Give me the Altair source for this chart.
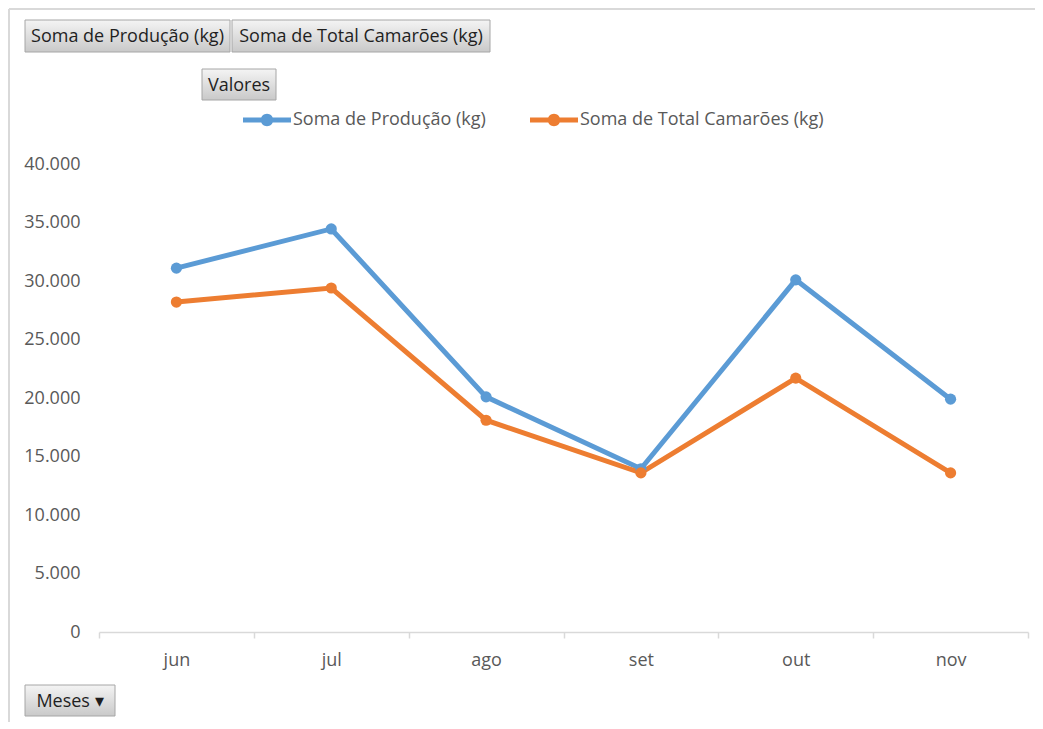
import altair as alt
import pandas as pd

months = ["jun", "jul", "ago", "set", "out", "nov"]
producao = [31100, 34450, 20100, 13950, 30100, 19900]
camaroes = [28200, 29400, 18100, 13600, 21700, 13600]
series_names = ["Soma de Produção (kg)", "Soma de Total Camarões (kg)"]
series_colors = ["#5B9BD5", "#ED7D31"]
y_ticks = [0, 5000, 10000, 15000, 20000, 25000, 30000, 35000, 40000]

rows = []
for m, p, c in zip(months, producao, camaroes):
    rows.append({"mes": m, "serie": series_names[0], "valor": p})
    rows.append({"mes": m, "serie": series_names[1], "valor": c})
df = pd.DataFrame(rows)

FONT = "Open Sans"

x_enc = alt.X("mes:N", sort=months, scale=alt.Scale(paddingInner=0, paddingOuter=0),
              axis=alt.Axis(title=None, labelAngle=0, domainColor="#D9D9D9", tickColor="#D9D9D9",
                            domainWidth=1.5, tickWidth=1.5,
                            tickSize=6, tickBand="extent", labelPadding=13, labelFontSize=18,
                            labelColor="#595959", labelFont=FONT, grid=False))
y_enc = alt.Y("valor:Q", scale=alt.Scale(domain=[0, 40000]),
              axis=alt.Axis(title=None, values=y_ticks, domain=False, ticks=False, grid=False,
                            labelPadding=19, labelFontSize=18, labelColor="#595959", labelFont=FONT,
                            labelExpr="replace(format(datum.value, ',d'), ',', '.')"))
color_scale = alt.Scale(domain=series_names, range=series_colors)

legend_symbol = ("M-1,-0.1 L1,-0.1 L1,0.1 L-1,0.1 Z "
                 "M-0.26,0 A0.26,0.26 0 1,1 0.26,0 A0.26,0.26 0 1,1 -0.26,0 Z")

lines = alt.Chart(df).mark_line(strokeWidth=5).encode(
    x=x_enc, y=y_enc,
    color=alt.Color("serie:N", scale=color_scale, legend=None),
    detail="serie:N",
)
points = alt.Chart(df).mark_point(filled=True, size=125, opacity=1).encode(
    x=x_enc, y=y_enc,
    color=alt.Color("serie:N", scale=color_scale,
                    legend=alt.Legend(title=None, orient="none", legendX=144, legendY=-68,
                                      direction="horizontal", symbolType=legend_symbol,
                                      symbolSize=2304, symbolStrokeWidth=0, labelFontSize=18,
                                      labelColor="#595959", labelFont=FONT, labelOffset=2,
                                      labelLimit=0, columnPadding=44, symbolOpacity=1)),
)

# decorative pivot-chart field buttons and outer frame (pixel offsets from plot origin)
btn_labels = ["Soma de Produção (kg)", "Soma de Total Camarões (kg)", "Valores", "Meses   \u25BE"]
btn_x = [-74, 133, 103, -74]
btn_x2 = [131, 391, 177, 16]
btn_y = [-144, -144, -95, 521]
btn_y2 = [-112, -112, -64, 552]

gradient = alt.Gradient(gradient="linear", x1=0, y1=0, x2=0, y2=1,
                        stops=[alt.GradientStop(color="#F4F4F4", offset=0),
                               alt.GradientStop(color="#C9C9C9", offset=1)])

one = pd.DataFrame({"a": [0]})
frame_top = alt.Chart(one).mark_rule(stroke="#D9D9D9", strokeWidth=2).encode(
    x=alt.value(-90), x2=alt.value(936), y=alt.value(-155))
frame_left = alt.Chart(one).mark_rule(stroke="#D9D9D9", strokeWidth=2).encode(
    x=alt.value(-90), y=alt.value(-155), y2=alt.value(565))

deco = []
for lab, x0, x1, y0, y1 in zip(btn_labels, btn_x, btn_x2, btn_y, btn_y2):
    deco.append(alt.Chart(one).mark_rect(fill=gradient, stroke="#A6A6A6", strokeWidth=1).encode(
        x=alt.value(x0), x2=alt.value(x1), y=alt.value(y0), y2=alt.value(y1)))
    deco.append(alt.Chart(one).mark_text(font=FONT, fontSize=18, color="#1F1F1F", baseline="middle").encode(
        x=alt.value((x0 + x1) / 2), y=alt.value((y0 + y1) / 2 + 1), text=alt.value(lab)))

chart = alt.layer(frame_top, frame_left, lines, points, *deco).resolve_legend(
    color="independent"
).properties(
    width=929, height=468,
    padding={"left": 91, "top": 156, "right": 7, "bottom": 90},
    autosize=alt.AutoSizeParams(type="none"),
    background="white",
).configure_view(stroke=None)

chart.save("out.html", embed_options={"renderer": "svg", "actions": False})
